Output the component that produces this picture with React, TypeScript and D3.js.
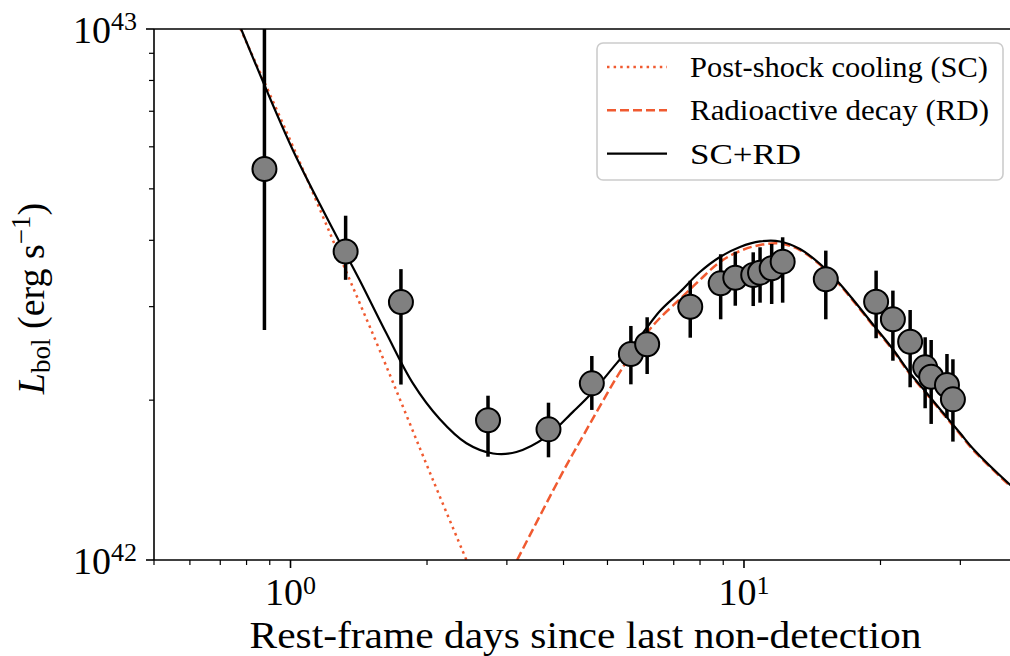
import React from 'react';
import * as d3 from 'd3';

// Observed bolometric light curve (L in units of 1e42 erg/s)
const days = [0.876, 1.323, 1.752, 2.726, 3.706, 4.618, 5.631, 6.116, 7.612, 8.884, 9.568, 10.48, 10.85, 11.51, 12.17, 15.15, 19.56, 21.30, 23.25, 25.09, 25.87, 28.03, 28.89];
const lum = [5.45, 3.81, 3.06, 1.833, 1.762, 2.151, 2.443, 2.548, 2.999, 3.319, 3.401, 3.441, 3.476, 3.543, 3.646, 3.378, 3.064, 2.840, 2.577, 2.306, 2.214, 2.136, 2.007];
const lumLow = [2.71, 3.37, 2.14, 1.565, 1.561, 1.917, 2.142, 2.240, 2.622, 2.840, 3.012, 3.008, 3.052, 3.035, 3.052, 2.840, 2.616, 2.373, 2.115, 1.931, 1.804, 1.851, 1.671];
const lumHigh = [11.5, 4.45, 3.53, 2.039, 1.978, 2.422, 2.759, 2.865, 3.357, 3.765, 3.807, 3.797, 3.881, 3.937, 4.053, 3.825, 3.507, 3.216, 2.957, 2.627, 2.596, 2.443, 2.388];

// Post-shock cooling model (SC)
const scDays = [0.7756, 1.0205, 1.3025, 1.5719, 2.0613, 2.443];
const scLum = [10.0, 5.917, 3.625, 2.486, 1.4146, 1.0];

// Radioactive decay model (RD)
const rdDays = [3.160, 4.026, 4.345, 5.416, 6.098, 6.526, 7.224, 7.994, 8.851, 9.799, 10.85, 12.01, 13.29, 14.72, 16.13, 17.43, 19.29, 21.36, 23.25, 25.31, 27.54, 29.99, 32.08, 38.66, 40];
const rdLum = [1.0, 1.488, 1.671, 2.312, 2.673, 2.856, 3.101, 3.368, 3.641, 3.819, 3.920, 3.945, 3.835, 3.595, 3.322, 3.073, 2.757, 2.474, 2.236, 2.051, 1.880, 1.724, 1.608, 1.377, 1.343];

// Combined model (SC+RD)
const totDays = [0.7783, 1.0118, 1.2829, 1.420, 1.627, 1.862, 2.133, 2.443, 2.797, 3.149, 3.668, 4.201, 4.611, 5.236, 5.894, 6.526, 7.224, 7.994, 8.851, 9.799, 10.85, 12.01, 13.29, 14.72, 16.13, 17.43, 19.29, 21.36, 23.25, 25.31, 27.54, 29.99, 32.08, 38.66, 40];
const totLum = [10.0, 5.917, 3.971, 3.368, 2.673, 2.151, 1.843, 1.659, 1.587, 1.597, 1.707, 1.903, 2.061, 2.346, 2.634, 2.944, 3.197, 3.486, 3.721, 3.886, 3.980, 3.980, 3.852, 3.609, 3.338, 3.088, 2.771, 2.486, 2.247, 2.061, 1.889, 1.732, 1.616, 1.384, 1.35];

const xMajorTicks = [1, 10];
const xMajorExp = ['0', '1'];
const xMinorTicks = [0.5, 0.6, 0.7, 0.8, 0.9, 2, 3, 4, 5, 6, 7, 8, 9, 20, 30, 40];
const yMajorTicks = [1, 10];
const yMajorExp = ['42', '43'];
const yMinorTicks = [2, 3, 4, 5, 6, 7, 8, 9];

const legendLabels = ['Post-shock cooling (SC)', 'Radioactive decay (RD)', 'SC+RD'];

const ORANGE = '#f05a30';
const FONT = "'Liberation Serif', 'DejaVu Serif', serif";
const tstyle: React.CSSProperties = { fontFamily: FONT };

export default function App() {
  const W = 1010, H = 656;
  const L = 154, R = 1017, T = 29, B = 560;
  const x = d3.scaleLog().domain([0.5, 40]).range([L, R]);
  const y = d3.scaleLog().domain([1, 10]).range([B, T]);

  const line = d3.line<[number, number]>()
    .x(d => x(d[0]))
    .y(d => y(d[1]))
    .curve(d3.curveCatmullRom.alpha(0.5));

  const sc = line(scDays.map((d, i) => [d, scLum[i]] as [number, number])) || '';
  const rd = line(rdDays.map((d, i) => [d, rdLum[i]] as [number, number])) || '';
  const tot = line(totDays.map((d, i) => [d, totLum[i]] as [number, number])) || '';

  const legendRows = [
    { label: legendLabels[0], stroke: ORANGE, dash: '2.5 4.1', w: 2.5, len: 298 },
    { label: legendLabels[1], stroke: ORANGE, dash: '9 4', w: 2.5, len: 299 },
    { label: legendLabels[2], stroke: '#000', dash: undefined, w: 2.2, len: 111 },
  ];

  return (
    <svg width={W} height={H} style={{ position: 'absolute', left: 0, top: 0, background: '#fff' }}>
      <defs>
        <clipPath id="plotclip">
          <rect x={L} y={T} width={R - L} height={B - T} />
        </clipPath>
      </defs>
      <rect x={0} y={0} width={W} height={H} fill="#fff" />

      <g clipPath="url(#plotclip)">
        <path d={sc} fill="none" stroke={ORANGE} strokeWidth={2.5} strokeDasharray="2.5 4.1" />
        <path d={rd} fill="none" stroke={ORANGE} strokeWidth={2.5} strokeDasharray="9 4" />
        <path d={tot} fill="none" stroke="#000" strokeWidth={2.2} />
        {days.map((d, i) => (
          <line key={'e' + i} x1={x(d)} x2={x(d)} y1={y(lumLow[i])} y2={y(lumHigh[i])} stroke="#000" strokeWidth={3.5} />
        ))}
        {days.map((d, i) => (
          <circle key={'m' + i} cx={x(d)} cy={y(lum[i])} r={12} fill="#808080" stroke="#000" strokeWidth={2} />
        ))}
      </g>

      {/* spines */}
      <line x1={L} x2={L} y1={T} y2={B} stroke="#000" strokeWidth={1.6} />
      <line x1={L} x2={R} y1={B} y2={B} stroke="#000" strokeWidth={1.6} />
      <line x1={L} x2={R} y1={T} y2={T} stroke="#000" strokeWidth={1.6} />
      <line x1={R} x2={R} y1={T} y2={B} stroke="#000" strokeWidth={1.6} />

      {/* x ticks */}
      {xMinorTicks.map(t => (
        <line key={'xm' + t} x1={x(t)} x2={x(t)} y1={B} y2={B + 5} stroke="#000" strokeWidth={1.2} />
      ))}
      {xMajorTicks.map((t, i) => (
        <g key={'xM' + t}>
          <line x1={x(t)} x2={x(t)} y1={B} y2={B + 8} stroke="#000" strokeWidth={1.6} />
          <text x={x(t)} y={605} textAnchor="middle" fontSize={38} fill="#000" style={tstyle}>
            10<tspan fontSize={26} dy={-11}>{xMajorExp[i]}</tspan>
          </text>
        </g>
      ))}

      {/* y ticks */}
      {yMinorTicks.map(t => (
        <line key={'ym' + t} x1={L - 5} x2={L} y1={y(t)} y2={y(t)} stroke="#000" strokeWidth={1.2} />
      ))}
      {yMajorTicks.map((t, i) => (
        <g key={'yM' + t}>
          <line x1={L - 8} x2={L} y1={y(t)} y2={y(t)} stroke="#000" strokeWidth={1.6} />
          <text x={137} y={y(t) + 13.5} textAnchor="end" fontSize={38} fill="#000" style={tstyle}>
            10<tspan fontSize={26} dy={-13}>{yMajorExp[i]}</tspan>
          </text>
        </g>
      ))}

      {/* axis labels */}
      <text x={(L + R) / 2} y={648} textAnchor="middle" fontSize={38} fill="#000" style={tstyle}
        textLength={672} lengthAdjust="spacingAndGlyphs">
        Rest-frame days since last non-detection
      </text>
      <text transform="translate(43.5,298.5) rotate(-90)" textAnchor="middle" fontSize={38} fill="#000" style={tstyle}>
        <tspan fontStyle="italic">L</tspan>
        <tspan fontSize={27} dy={6}>bol</tspan>
        <tspan dy={-6}> (erg s</tspan>
        <tspan fontSize={27} dy={-14}>−1</tspan>
        <tspan dy={14}>)</tspan>
      </text>

      {/* legend */}
      <rect x={597} y={43} width={406} height={137} rx={6} ry={6} fill="#fff" fillOpacity={0.8} stroke="#cccccc" strokeWidth={1.6} />
      {legendRows.map((r, i) => {
        const cy = 67 + i * 43.3;
        return (
          <g key={'lg' + i}>
            <line x1={607} x2={667} y1={cy} y2={cy} stroke={r.stroke} strokeWidth={r.w} strokeDasharray={r.dash} />
            <text x={690} y={cy + 10} fontSize={30} fill="#000" style={tstyle}
              textLength={r.len} lengthAdjust="spacingAndGlyphs">{r.label}</text>
          </g>
        );
      })}
    </svg>
  );
}
